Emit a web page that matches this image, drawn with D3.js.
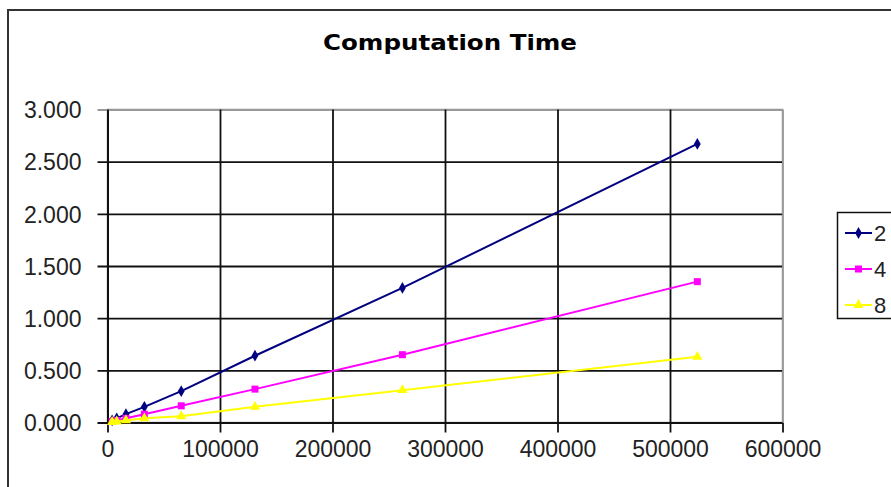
<!DOCTYPE html>
<html>
<head>
<meta charset="utf-8">
<title>Computation Time</title>
<script src="https://cdn.jsdelivr.net/npm/d3@7"></script>
<style>
  body { margin: 0; background: #fff; }
  svg { display: block; }
</style>
</head>
<body>
<svg width="891" height="487" id="mainsvg"></svg>
<script>
// data
const sizes = [4096, 8192, 16384, 32768, 65536, 131072, 262144, 524288];
const series2 = [0.02, 0.04, 0.08, 0.15, 0.30, 0.64, 1.29, 2.67];
const series4 = [0.01, 0.02, 0.04, 0.08, 0.16, 0.32, 0.65, 1.35];
const series8 = [0.005, 0.01, 0.02, 0.04, 0.06, 0.15, 0.31, 0.63];
const seriesNames = ['2', '4', '8'];
const xTicks = [0, 100000, 200000, 300000, 400000, 500000, 600000];
const yTicks = [0, 0.5, 1, 1.5, 2, 2.5, 3];

const svg = d3.select('#mainsvg');
const margin = { top: 109.5, left: 107.5, right: 109, bottom: 64.5 };
const width = +svg.attr('width');
const height = +svg.attr('height');
const innerWidth = width - margin.left - margin.right + 2;
const innerHeight = height - margin.top - margin.bottom;

// outer chart frame (cut off at right and bottom)
svg.append('rect')
  .attr('x', 8).attr('y', 10)
  .attr('width', 920).attr('height', 520)
  .attr('fill', 'none')
  .attr('stroke', '#333')
  .attr('stroke-width', 2);

const g = svg.append('g')
  .attr('transform', `translate(${margin.left},${margin.top})`);

const x = d3.scaleLinear().domain([0, 600000]).range([0, 675]);
const y = d3.scaleLinear().domain([0, 3]).range([innerHeight, 0]);

// plot area border
g.append('rect')
  .attr('width', x(600000)).attr('height', innerHeight)
  .attr('fill', 'none').attr('stroke', '#999').attr('stroke-width', 1.5);

// y axis with gridlines
const yAxis = d3.axisLeft(y).tickValues(yTicks)
  .tickFormat(d3.format('.3f'))
  .tickSizeInner(-x(600000)).tickSizeOuter(0).tickPadding(0);
const yg = g.append('g').call(yAxis);
yg.select('.domain').attr('stroke', '#111').attr('stroke-width', 2);
yg.selectAll('.tick line').attr('stroke', '#111').attr('stroke-width', 1.8)
  .attr('x1', -10);
yg.selectAll('.tick').filter(d => d === 3).select('line').attr('stroke', '#999');
yg.selectAll('.tick text')
  .attr('x', -26).attr('dy', '0.36em')
  .attr('font-family', 'Liberation Sans, Arial, sans-serif')
  .attr('font-size', 23).attr('fill', '#222');

// x axis with gridlines
const xAxis = d3.axisBottom(x).tickValues(xTicks)
  .tickFormat(d3.format('d'))
  .tickSizeInner(-innerHeight).tickSizeOuter(0).tickPadding(0);
const xg = g.append('g').attr('transform', `translate(0,${innerHeight})`).call(xAxis);
xg.select('.domain').attr('stroke', '#111').attr('stroke-width', 2);
xg.selectAll('.tick line').attr('stroke', '#111').attr('stroke-width', 1.8)
  .attr('y1', 10);
xg.selectAll('.tick').filter(d => d === 600000).select('line')
  .attr('stroke', '#999').attr('y1', 10).attr('y2', 0)
  .clone().attr('stroke', '#999').attr('y1', 0).attr('y2', -innerHeight);
xg.selectAll('.tick').filter(d => d === 600000).select('line').attr('stroke', '#111');
xg.selectAll('.tick text')
  .attr('y', 34).attr('dy', 0)
  .attr('font-family', 'Liberation Sans, Arial, sans-serif')
  .attr('font-size', 23).attr('fill', '#222');

// series
const colors = ['#000080', '#ff00ff', '#ffff00'];
const allSeries = [series2, series4, series8];
const line = d3.line().x(d => x(d[0])).y(d => y(d[1]));

function marker(sel, i, cx, cy) {
  if (i === 0) {
    sel.append('path').attr('d', d3.symbol(d3.symbolDiamond, 40)())
      .attr('transform', `translate(${cx},${cy})`).attr('fill', colors[i]);
  } else if (i === 1) {
    sel.append('rect').attr('x', cx - 3.5).attr('y', cy - 3.5)
      .attr('width', 7).attr('height', 7).attr('fill', colors[i]);
  } else {
    sel.append('path').attr('d', d3.symbol(d3.symbolTriangle, 45)())
      .attr('transform', `translate(${cx},${cy})`).attr('fill', colors[i]);
  }
}

allSeries.forEach((vals, i) => {
  const pts = sizes.map((s, k) => [s, vals[k]]);
  g.append('path').datum(pts)
    .attr('d', line).attr('fill', 'none')
    .attr('stroke', colors[i]).attr('stroke-width', 2);
  const mg = g.append('g');
  pts.forEach(p => marker(mg, i, x(p[0]), y(p[1])));
});

// title
svg.append('text')
  .attr('x', 450).attr('y', 50)
  .attr('text-anchor', 'middle')
  .attr('font-family', 'DejaVu Sans, Verdana, sans-serif')
  .attr('font-weight', 'bold').attr('font-size', 21)
  .attr('textLength', 254).attr('lengthAdjust', 'spacingAndGlyphs')
  .attr('fill', '#000')
  .text('Computation Time');

// legend
const lg = svg.append('g');
lg.append('rect')
  .attr('x', 837.5).attr('y', 212.5)
  .attr('width', 80).attr('height', 106)
  .attr('fill', '#fff').attr('stroke', '#111').attr('stroke-width', 1.5);
seriesNames.forEach((name, i) => {
  const ly = 233 + i * 36;
  lg.append('line').attr('x1', 845).attr('x2', 872)
    .attr('y1', ly).attr('y2', ly)
    .attr('stroke', colors[i]).attr('stroke-width', 2);
  marker(lg, i, 858.5, ly);
  lg.append('text').attr('x', 874).attr('y', ly + 8)
    .attr('font-family', 'Liberation Sans, Arial, sans-serif')
    .attr('font-size', 22).attr('fill', '#222')
    .text(name);
});
</script>
</body>
</html>
